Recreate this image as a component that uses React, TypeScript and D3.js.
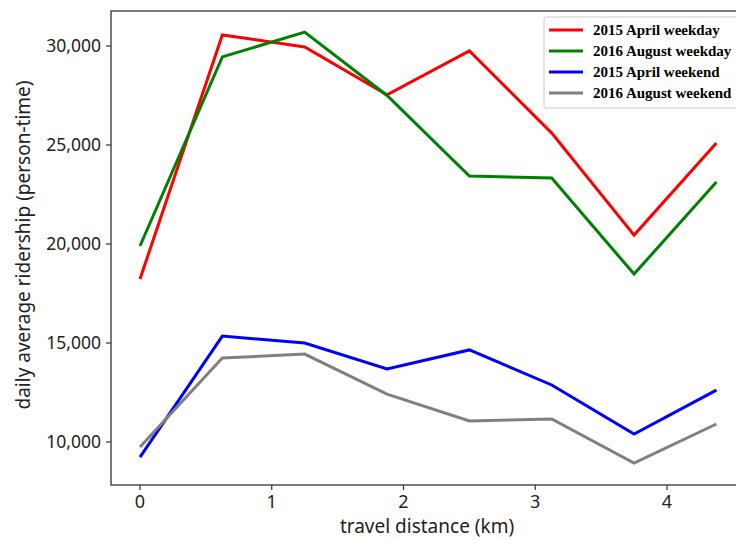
import React, { useRef, useEffect } from "react";
import * as d3 from "d3";

// travel distance (km) bins
const distances = [0, 0.625, 1.25, 1.875, 2.5, 3.125, 3.75, 4.375];

const april2015Weekday = [18230, 30560, 29950, 27530, 29750, 25600, 20450, 25100];
const august2016Weekday = [19900, 29450, 30700, 27500, 23430, 23330, 18480, 23130];
const april2015Weekend = [9240, 15350, 15000, 13690, 14650, 12880, 10400, 12620];
const august2016Weekend = [9750, 14240, 14440, 12420, 11060, 11160, 8940, 10910];

const seriesNames = [
  "2015 April weekday",
  "2016 August weekday",
  "2015 April weekend",
  "2016 August weekend",
];
const seriesColors = ["#ff0000", "#008000", "#0000ff", "#808080"];

const xTicks = [0, 1, 2, 3, 4];
const yTicks = [10000, 15000, 20000, 25000, 30000];

const W = 736;
const H = 540;
const margin = { top: 11, right: -12, bottom: 55, left: 111 };

const App = () => {
  const svgRef = useRef<SVGSVGElement>(null);

  useEffect(() => {
    const svg = d3.select(svgRef.current);
    svg.selectAll("*").remove();

    const allSeries = [april2015Weekday, august2016Weekday, april2015Weekend, august2016Weekend];

    const x = d3.scaleLinear().domain([0, 4]).range([140, 667]);
    const y = d3.scaleLinear().domain([10000, 30000]).range([442, 46]);

    const left = margin.left;
    const right = W - margin.right;
    const top = margin.top;
    const bottom = H - margin.bottom;

    // frame
    svg
      .append("rect")
      .attr("x", left)
      .attr("y", top)
      .attr("width", right - left)
      .attr("height", bottom - top)
      .attr("fill", "none")
      .attr("stroke", "#333")
      .attr("stroke-width", 1.3);

    // y axis
    const yAxis = svg.append("g").attr("transform", `translate(${left},0)`);
    yAxis
      .selectAll("line")
      .data(yTicks)
      .enter()
      .append("line")
      .attr("x1", -5)
      .attr("x2", 0)
      .attr("y1", (d) => y(d))
      .attr("y2", (d) => y(d))
      .attr("stroke", "#333")
      .attr("stroke-width", 1.2);
    yAxis
      .selectAll("text")
      .data(yTicks)
      .enter()
      .append("text")
      .attr("x", -10)
      .attr("y", (d) => y(d))
      .attr("dy", "0.35em")
      .attr("text-anchor", "end")
      .style("font", "17.5px 'Noto Sans', sans-serif")
      .attr("fill", "#222")
      .text((d) => d3.format(",")(d));

    // x axis
    const xAxis = svg.append("g").attr("transform", `translate(0,${bottom})`);
    xAxis
      .selectAll("line")
      .data(xTicks)
      .enter()
      .append("line")
      .attr("x1", (d) => x(d))
      .attr("x2", (d) => x(d))
      .attr("y1", 0)
      .attr("y2", 5)
      .attr("stroke", "#333")
      .attr("stroke-width", 1.2);
    xAxis
      .selectAll("text")
      .data(xTicks)
      .enter()
      .append("text")
      .attr("x", (d) => x(d))
      .attr("y", 23)
      .attr("text-anchor", "middle")
      .style("font", "18px 'Noto Sans', sans-serif")
      .attr("fill", "#222")
      .text((d) => d);

    // axis titles
    svg
      .append("text")
      .attr("x", 427)
      .attr("y", 533)
      .attr("text-anchor", "middle")
      .style("font", "19px 'Noto Sans', sans-serif")
      .attr("fill", "#222")
      .text("travel distance (km)");
    svg
      .append("text")
      .attr("transform", `translate(30,245) rotate(-90)`)
      .attr("text-anchor", "middle")
      .style("font", "19px 'Noto Sans', sans-serif")
      .attr("fill", "#222")
      .text("daily average ridership (person-time)");

    // lines
    const line = d3
      .line<number>()
      .x((_, i) => x(distances[i]))
      .y((d) => y(d));

    const plot = svg.append("g");
    allSeries.forEach((values, i) => {
      plot
        .append("path")
        .datum(values)
        .attr("d", line)
        .attr("fill", "none")
        .attr("stroke", seriesColors[i])
        .attr("stroke-width", 3);
    });

    // legend
    const legend = svg.append("g").attr("transform", "translate(544,17)");
    legend
      .append("rect")
      .attr("width", 210)
      .attr("height", 91)
      .attr("rx", 2)
      .attr("fill", "#fff")
      .attr("fill-opacity", 0.85)
      .attr("stroke", "#ccc");
    seriesNames.forEach((name, i) => {
      const g = legend.append("g").attr("transform", `translate(0,${13 + i * 21})`);
      g.append("line")
        .attr("x1", 5)
        .attr("x2", 39)
        .attr("stroke", seriesColors[i])
        .attr("stroke-width", 3);
      g.append("text")
        .attr("x", 49)
        .attr("dy", "0.35em")
        .style("font", "bold 15px 'Liberation Serif', serif")
        .attr("fill", "#000")
        .text(name);
    });
  }, []);

  return (
    <svg
      ref={svgRef}
      width={W}
      height={H}
      style={{ position: "absolute", left: 0, top: 0, background: "#fff" }}
    ></svg>
  );
};

export default App;
